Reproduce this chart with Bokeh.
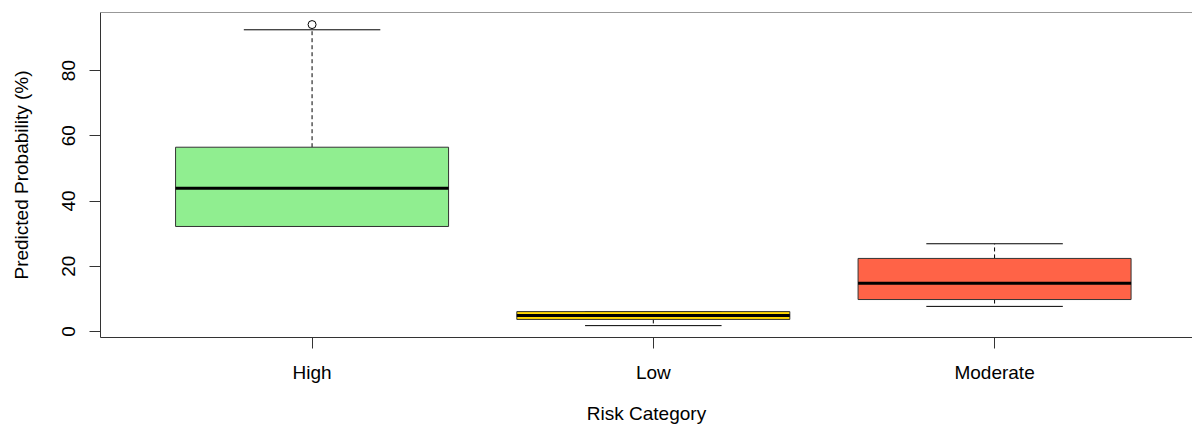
from bokeh.plotting import figure
from bokeh.models import ColumnDataSource, Range1d, FixedTicker, Span
from bokeh.embed import file_html
from bokeh.resources import INLINE

# Data
categories = ["High", "Low", "Moderate"]
q1 = [32.2, 3.7, 9.8]
median = [43.9, 4.9, 14.8]
q3 = [56.5, 6.1, 22.4]
whisker_low = [32.2, 1.8, 7.7]
whisker_high = [92.5, 6.1, 26.9]
colors = ["#90EE90", "#FFD700", "#FF6347"]
outlier_cat = ["High"]
outlier_val = [94.1]
y_ticks = [0, 20, 40, 60, 80]

pos = [i + 1 for i in range(len(categories))]
box_w = 0.8
cap_w = 0.4

src = ColumnDataSource(dict(
    x=pos, q1=q1, med=median, q3=q3, lo=whisker_low, hi=whisker_high, color=colors,
    x0=[x - box_w / 2 for x in pos], x1=[x + box_w / 2 for x in pos],
    c0=[x - cap_w / 2 for x in pos], c1=[x + cap_w / 2 for x in pos],
))

FONT = "Liberation Sans"
Y0, Y1 = -1.84, 97.8

p = figure(width=1192, height=427, output_backend="svg", toolbar_location=None,
           x_range=Range1d(0.38, 3.58), y_range=Range1d(Y0, Y1),
           min_border_left=100, min_border_right=0, min_border_top=12, min_border_bottom=90)
p.outline_line_color = None
p.xgrid.visible = False
p.ygrid.visible = False
p.background_fill_color = "white"
p.border_fill_color = "white"

# whiskers (dashed)
p.segment(x0="x", y0="q3", x1="x", y1="hi", source=src, line_color="black", line_width=1, line_dash="4 3")
p.segment(x0="x", y0="q1", x1="x", y1="lo", source=src, line_color="black", line_width=1, line_dash="4 3")
# caps
p.segment(x0="c0", y0="hi", x1="c1", y1="hi", source=src, line_color="black", line_width=1)
p.segment(x0="c0", y0="lo", x1="c1", y1="lo", source=src, line_color="black", line_width=1)
# boxes
p.vbar(x="x", width=box_w, bottom="q1", top="q3", source=src, fill_color="color", line_color="#333333", line_width=1)
# medians
p.segment(x0="x0", y0="med", x1="x1", y1="med", source=src, line_color="black", line_width=3)
# outliers
ox = [pos[categories.index(c)] for c in outlier_cat]
p.scatter(ox, outlier_val, marker="circle", size=8, fill_color=None, line_color="black", line_width=1)

# top border of plot box
p.add_layout(Span(location=Y1, dimension="width", line_color="#333333", line_width=1))

for ax in (p.xaxis[0], p.yaxis[0]):
    ax.axis_line_color = "#333333"
    ax.major_tick_line_color = "#333333"
    ax.major_tick_out = 11
    ax.major_tick_in = 0
    ax.minor_tick_line_color = None
    ax.major_label_text_font = FONT
    ax.major_label_text_font_size = "19px"
    ax.major_label_text_color = "black"
    ax.axis_label_text_font = FONT
    ax.axis_label_text_font_size = "19px"
    ax.axis_label_text_font_style = "normal"
    ax.axis_label_text_color = "black"

p.xaxis.ticker = FixedTicker(ticks=pos)
p.xaxis.major_label_overrides = {x: c for x, c in zip(pos, categories)}
p.xaxis.axis_label = "Risk Category"
p.xaxis.major_label_standoff = 13
p.xaxis.axis_label_standoff = 17

p.yaxis.ticker = FixedTicker(ticks=y_ticks)
p.yaxis.major_label_orientation = "vertical"
p.yaxis.axis_label = "Predicted Probability (%)"
p.yaxis.major_label_standoff = 14
p.yaxis.axis_label_standoff = 28

open("out.html", "w").write(file_html(p, INLINE))
